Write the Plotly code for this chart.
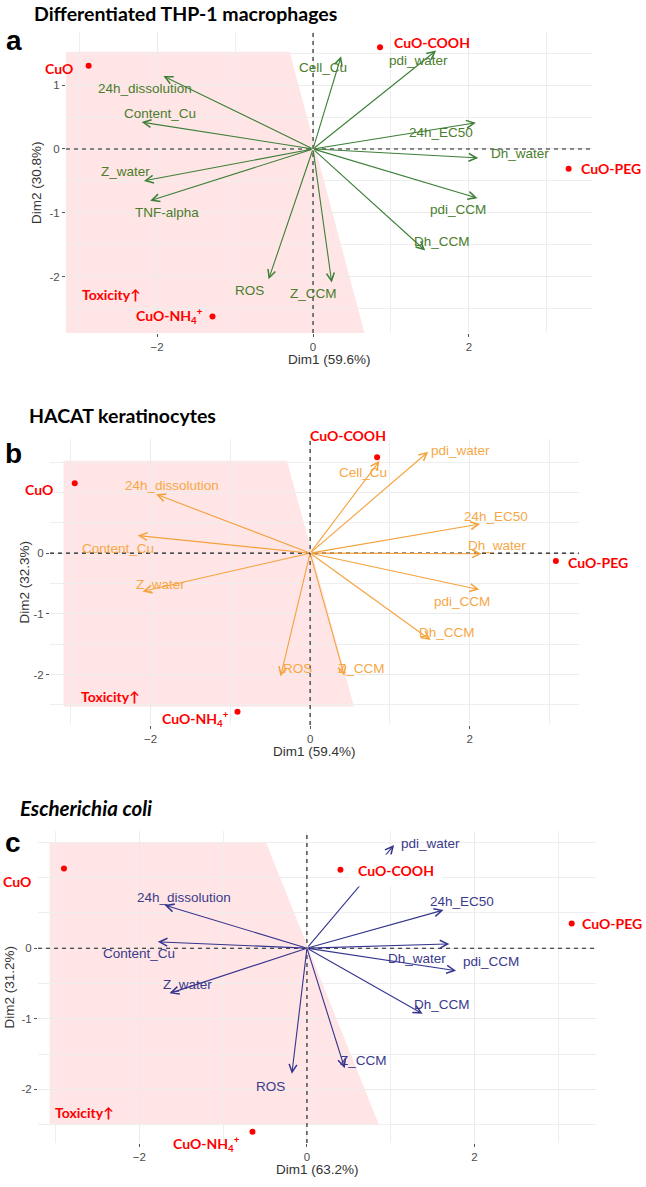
import plotly.graph_objects as go

# ---------------- data ----------------
samples = ["CuO", "CuO-COOH", "CuO-PEG", "CuO-NH<sub>4</sub><sup>+</sup>"]

# Panel a : differentiated THP-1 macrophages
a_title = "Differentiated THP-1 macrophages"
a_pct = [59.6, 30.8]
a_vars = ["Cell_Cu", "pdi_water", "24h_dissolution", "Content_Cu", "24h_EC50", "Dh_water",
          "Z_water", "TNF-alpha", "pdi_CCM", "Dh_CCM", "ROS", "Z_CCM"]
a_var_dim1 = [0.36, 1.58, -1.92, -2.20, 2.09, 2.12, -2.17, -2.09, 2.11, 1.44, -0.57, 0.24]
a_var_dim2 = [1.45, 1.54, 1.14, 0.42, 0.41, -0.14, -0.50, -0.81, -0.77, -1.59, -2.04, -2.09]
a_ind_dim1 = [-2.88, 0.86, 3.28, -1.29]
a_ind_dim2 = [1.30, 1.59, -0.31, -2.62]

# Panel b : HACAT keratinocytes
b_title = "HACAT keratinocytes"
b_pct = [59.4, 32.3]
b_vars = ["Cell_Cu", "pdi_water", "24h_dissolution", "Content_Cu", "24h_EC50", "Dh_water",
          "Z_water", "pdi_CCM", "Dh_CCM", "ROS", "Z_CCM"]
b_var_dim1 = [0.87, 1.48, -1.93, -2.16, 2.13, 2.15, -2.10, 2.12, 1.51, -0.37, 0.43]
b_var_dim2 = [1.52, 1.67, 0.97, 0.29, 0.48, -0.01, -0.63, -0.60, -1.43, -2.03, -2.02]
b_ind_dim1 = [-2.95, 0.84, 3.08, -0.91]
b_ind_dim2 = [1.15, 1.58, -0.13, -2.61]

# Panel c : Escherichia coli
c_title = "<i>Escherichia coli</i>"
c_pct = [63.2, 31.2]
c_vars = ["pdi_water", "24h_EC50", "Dh_water", "pdi_CCM", "24h_dissolution", "Content_Cu",
          "Z_water", "Dh_CCM", "Z_CCM", "ROS"]
c_var_dim1 = [1.04, 1.63, 1.70, 1.78, -1.70, -1.78, -1.64, 1.38, 0.45, -0.18]
c_var_dim2 = [1.46, 0.54, 0.06, -0.32, 0.61, 0.09, -0.64, -0.93, -1.70, -1.78]
c_ind_dim1 = [-2.90, 0.40, 3.16, -0.65]
c_ind_dim2 = [1.13, 1.11, 0.35, -2.60]

# y tick values (the "1" tick is hidden under the CuO label in panels b and c)
a_yticks = [-2, -1, 0, 1]
bc_yticks = [-2, -1, 0]

# ---------------- layout settings ----------------
W, H = 646, 1187

def px_dom(x0, x1, y0, y1):
    return [x0 / W, x1 / W], [1 - y1 / H, 1 - y0 / H]

panels = [
    dict(letter="a", title=a_title, tsize=19.5, pct=a_pct, vars=a_vars, v1=a_var_dim1, v2=a_var_dim2,
         i1=a_ind_dim1, i2=a_ind_dim2, color="#3C7F37", tcolor="#4A7D2C", yt=a_yticks,
         box=(66, 592, 32, 333), xr=[-3.17, 3.58], yr=[-2.88, 1.83],
         title_xy=(32, 13), letter_xy=(4, 40),
         tox_poly=[(-3.17, 1.52), (-0.30, 1.52), (0.66, -2.88), (-3.17, -2.88)],
         tox_pos=(-2.99, -2.28),
         lab={"Cell_Cu": (0.13, 1.28), "pdi_water": (1.35, 1.38), "24h_dissolution": (-2.16, 0.95),
              "Content_Cu": (-1.96, 0.56), "24h_EC50": (1.64, 0.25), "Dh_water": (2.66, -0.07),
              "Z_water": (-2.41, -0.36), "TNF-alpha": (-1.88, -0.99), "pdi_CCM": (1.86, -0.95),
              "Dh_CCM": (1.66, -1.45), "ROS": (-0.81, -2.21), "Z_CCM": (0.0, -2.26)},
         # (xanchor, xshift, yshift) for the sample labels
         slab=[("right", -14, -3), ("left", 12, 5), ("left", 10, 0), ("right", -8, 1)],
         ytitle_shift=-20, white=[]),
    dict(letter="b", title=b_title, tsize=19.5, pct=b_pct, vars=b_vars, v1=b_var_dim1, v2=b_var_dim2,
         i1=b_ind_dim1, i2=b_ind_dim2, color="#F5A23C", tcolor="#F6A847", yt=bc_yticks,
         box=(50, 579, 439, 725), xr=[-3.26, 3.37], yr=[-2.83, 1.88],
         title_xy=(27, 415), letter_xy=(3, 453),
         tox_poly=[(-3.09, 1.52), (-0.29, 1.52), (0.55, -2.53), (-3.09, -2.53)],
         tox_pos=(-2.90, -2.36),
         lab={"Cell_Cu": (0.66, 1.33), "pdi_water": (1.89, 1.69), "24h_dissolution": (-1.73, 1.11),
              "Content_Cu": (-2.41, 0.08), "24h_EC50": (2.33, 0.60), "Dh_water": (2.34, 0.13),
              "Z_water": (-1.88, -0.52), "pdi_CCM": (1.90, -0.79), "Dh_CCM": (1.72, -1.31),
              "ROS": (-0.16, -1.90), "Z_CCM": (0.64, -1.90)},
         slab=[("right", -20, -6), ("center", -29, 22), ("left", 10, -1), ("right", -7, -7)],
         ytitle_shift=-17, white=[]),
    dict(letter="c", title=c_title, tsize=20.5, pct=c_pct, vars=c_vars, v1=c_var_dim1, v2=c_var_dim2,
         i1=c_ind_dim1, i2=c_ind_dim2, color="#35358F", tcolor="#3A3A8C", yt=bc_yticks,
         box=(38, 596, 831, 1143), xr=[-3.21, 3.45], yr=[-2.76, 1.66],
         title_xy=(18, 808), letter_xy=(3, 842),
         tox_poly=[(-3.07, 1.50), (-0.49, 1.50), (0.86, -2.50), (-3.07, -2.50)],
         tox_pos=(-3.03, -2.33),
         lab={"pdi_water": (1.48, 1.49), "24h_EC50": (1.85, 0.66), "Dh_water": (1.31, -0.14),
              "pdi_CCM": (2.20, -0.19), "24h_dissolution": (-1.47, 0.72), "Content_Cu": (-2.01, -0.08),
              "Z_water": (-1.43, -0.52), "Dh_CCM": (1.61, -0.80), "Z_CCM": (0.67, -1.59),
              "ROS": (-0.43, -1.96)},
         slab=[("right", -31, -13), ("left", 10, -1), ("left", 8, 0), ("center", -46, -12)],
         ytitle_shift=-20, white=[1]),
]

RED = "#FF0000"
LAB_FONT = "Lato, 'Open Sans', sans-serif"
AX_FONT = "'Liberation Sans', Arial, sans-serif"

fig = go.Figure()
annotations = []
shapes = []
layout_axes = {}

for k, p in enumerate(panels, start=1):
    xa, ya = ("x" if k == 1 else f"x{k}"), ("y" if k == 1 else f"y{k}")
    xdom, ydom = px_dom(*p["box"])
    layout_axes["xaxis" if k == 1 else f"xaxis{k}"] = dict(
        domain=xdom, range=p["xr"], anchor=ya, tick0=0, dtick=2, automargin=False,
        showgrid=True, gridcolor="#EBEBEB", gridwidth=1.1,
        minor=dict(tick0=0, dtick=1, showgrid=True, gridcolor="#EEEEEE", gridwidth=0.7),
        zeroline=False, showline=False, ticks="outside", ticklen=3, tickcolor="#555555",
        tickfont=dict(family=AX_FONT, size=11.5, color="#4D4D4D"), fixedrange=True)
    layout_axes["yaxis" if k == 1 else f"yaxis{k}"] = dict(
        domain=ydom, range=p["yr"], anchor=xa, tickmode="array", tickvals=p["yt"],
        ticktext=[str(v) for v in p["yt"]], automargin=False,
        showgrid=True, gridcolor="#EBEBEB", gridwidth=1.1,
        minor=dict(tick0=0, dtick=0.5, showgrid=True, gridcolor="#EEEEEE", gridwidth=0.7),
        zeroline=False, showline=False, ticks="outside", ticklen=3, tickcolor="#555555",
        tickfont=dict(family=AX_FONT, size=11.5, color="#4D4D4D"), fixedrange=True)

    # toxicity region
    path = "M " + " L ".join(f"{x},{y}" for x, y in p["tox_poly"]) + " Z"
    shapes.append(dict(type="path", path=path, xref=xa, yref=ya, layer="below",
                       fillcolor="rgba(255,0,0,0.10)", line=dict(width=0)))
    # dashed zero lines
    shapes.append(dict(type="line", xref=f"{xa} domain", yref=ya, x0=0, x1=1, y0=0, y1=0,
                       layer="above", line=dict(color="#1A1A1A", width=1.1, dash="4px,4px")))
    shapes.append(dict(type="line", xref=xa, yref=f"{ya} domain", x0=0, x1=0, y0=0, y1=1,
                       layer="above", line=dict(color="#1A1A1A", width=1.1, dash="4px,4px")))

    # variable arrows
    for name, vx, vy in zip(p["vars"], p["v1"], p["v2"]):
        annotations.append(dict(x=vx, y=vy, ax=0, ay=0, xref=xa, yref=ya, axref=xa, ayref=ya,
                                text="", showarrow=True, arrowhead=5, arrowsize=1.4,
                                arrowwidth=1.1, arrowcolor=p["color"], standoff=0, startstandoff=0))
    for name in p["vars"]:
        lx, ly = p["lab"][name]
        annotations.append(dict(x=lx, y=ly, xref=xa, yref=ya, text=name, showarrow=False,
                                font=dict(family=AX_FONT, size=13.5, color=p["tcolor"])))

    # individuals
    fig.add_trace(go.Scatter(x=p["i1"], y=p["i2"], xaxis=xa, yaxis=ya, mode="markers",
                             marker=dict(color=RED, size=6), hoverinfo="skip", showlegend=False))
    for j, (s, sx, sy) in enumerate(zip(samples, p["i1"], p["i2"])):
        anc, xs, ys = p["slab"][j]
        extra = {}
        if j in p["white"]:
            extra = dict(bgcolor="white", borderpad=7)
        annotations.append(dict(x=sx, y=sy, xref=xa, yref=ya, text=f"<b>{s}</b>", showarrow=False,
                                xanchor=anc, xshift=xs, yshift=ys,
                                font=dict(family=LAB_FONT, size=14, color=RED), **extra))
    tx, ty = p["tox_pos"]
    annotations.append(dict(x=tx, y=ty, xref=xa, yref=ya, text="<b>Toxicity↑</b>", showarrow=False,
                            xanchor="left", font=dict(family=LAB_FONT, size=14, color=RED)))

    # axis titles
    annotations.append(dict(x=0.5, y=0, xref=f"{xa} domain", yref=f"{ya} domain",
                            text=f"Dim1 ({p['pct'][0]}%)", showarrow=False, yanchor="top", yshift=-17,
                            font=dict(family=AX_FONT, size=13.5, color="#333333")))
    annotations.append(dict(x=0, y=0.5, xref=f"{xa} domain", yref=f"{ya} domain",
                            text=f"Dim2 ({p['pct'][1]}%)", showarrow=False, textangle=-90,
                            xanchor="right", xshift=p["ytitle_shift"],
                            font=dict(family=AX_FONT, size=13.5, color="#333333")))

    # panel title and letter
    tx0, ty0 = p["title_xy"]
    annotations.append(dict(x=tx0 / W, y=1 - ty0 / H, xref="paper", yref="paper",
                            text=f"<b>{p['title']}</b>", showarrow=False, xanchor="left", yanchor="middle",
                            font=dict(family=LAB_FONT, size=p["tsize"], color="black")))
    lx0, ly0 = p["letter_xy"]
    annotations.append(dict(x=lx0 / W, y=1 - ly0 / H, xref="paper", yref="paper",
                            text=f"<b>{p['letter']}</b>", showarrow=False, xanchor="left", yanchor="middle",
                            font=dict(family=AX_FONT, size=28, color="black")))

fig.update_layout(width=W, height=H, margin=dict(l=0, r=0, t=0, b=0),
                  plot_bgcolor="white", paper_bgcolor="white", showlegend=False,
                  annotations=annotations, shapes=shapes, **layout_axes)

fig.write_html("out.html", config={"displayModeBar": False},
               post_script="document.body.style.margin='0px';")
